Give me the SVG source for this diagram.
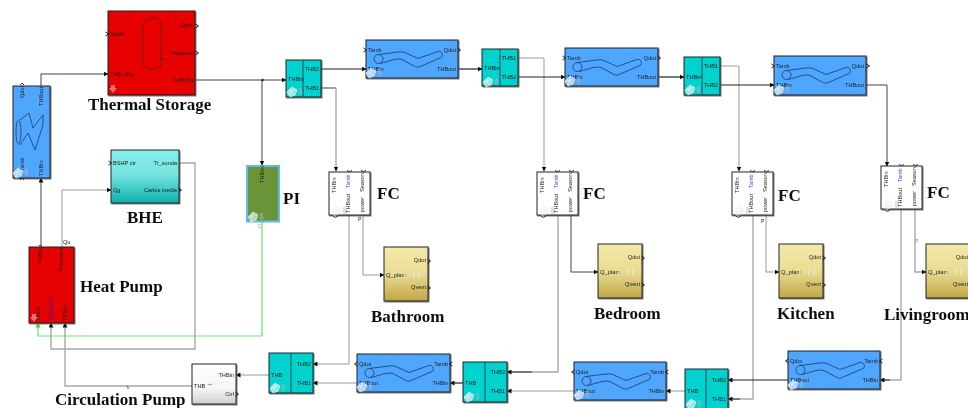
<svg xmlns="http://www.w3.org/2000/svg" xmlns:xlink="http://www.w3.org/1999/xlink" width="968" height="408" viewBox="0 0 968 408">
<style>
text{font-family:"Liberation Sans",Arial,sans-serif;font-size:5.6px;fill:#222}
.t{font-family:"Liberation Serif","Times New Roman",serif;font-weight:bold;font-size:17px;fill:#111}
.e{text-anchor:end}.m{text-anchor:middle}
.b{stroke:#222;stroke-width:1;filter:url(#sh)}
.blue{fill:#4fa6ff}.red{fill:#e60000}.cy{fill:#00d2d0}
.d{stroke:#1c4a4a;stroke-width:1;fill:none}
.c{fill:none;stroke:#444;stroke-width:1}
.k{stroke:#222;stroke-width:1.2}
.g{stroke:#999}.l{stroke:#a8a8a8;stroke-width:1.4}
.cm{fill:none;stroke:#222;stroke-width:.9}
.ic{fill:none;stroke:#1d3a66;stroke-width:.8}
</style>
<defs>
<filter id="sh" x="-10%" y="-10%" width="125%" height="125%"><feDropShadow dx="1" dy="1" stdDeviation=".6" flood-color="#555" flood-opacity=".8"/></filter>
<filter id="soft"><feGaussianBlur stdDeviation=".5"/></filter>
<linearGradient id="gT" x1="0" y1="0" x2="0" y2="1"><stop offset="0" stop-color="#84eeea"/><stop offset=".45" stop-color="#78e4e0"/><stop offset="1" stop-color="#0db2ae"/></linearGradient>
<linearGradient id="gY" x1="0" y1="0" x2="0" y2="1"><stop offset="0" stop-color="#f3e9ab"/><stop offset=".5" stop-color="#eadc92"/><stop offset="1" stop-color="#c0a644"/></linearGradient>
<linearGradient id="gW" x1="0" y1="0" x2="0" y2="1"><stop offset="0" stop-color="#fff"/><stop offset=".6" stop-color="#f6f6f6"/><stop offset="1" stop-color="#cfcfcf"/></linearGradient>
<marker id="a" markerWidth="5" markerHeight="5" refX="4.5" refY="2.5" orient="auto" markerUnits="userSpaceOnUse"><path d="M0,0L5,2.5L0,5Z" fill="#111"/></marker>
<marker id="ag" markerWidth="5" markerHeight="5" refX="4.5" refY="2.5" orient="auto" markerUnits="userSpaceOnUse"><path d="M0,0L5,2.5L0,5Z" fill="#3bd63b"/></marker>
<symbol id="pipe" overflow="visible"><ellipse cx="12.500" cy="19" rx="4.500" ry="4.500" class="ic"/><path class="ic" d="M12,14.500L32,12C36,11.500 38,12 41,13.500L52,18.500L72,11.500C76,10.500 78,16 75,17.500L53,27C51,27.500 50,27 48,26L37,20C34,18.800 32,18.800 28,19.500L14,23.500"/></symbol>
<symbol id="ico" overflow="visible"><path d="M0,5L5,0L10,3L8,8L3,10ZM2,3L8,8M5,1L3,9M0,6L9,2" fill="#e4ecf0" fill-opacity=".65" stroke="#f2f4f5" stroke-width=".6"/><path d="M12,1h3v4h1.500l-3,3.500l-3,-3.500h1.500z" fill="#9fb4c0" fill-opacity=".55"/></symbol>
<path id="chv" d="M-1.500,-2L1.500,0L-1.500,2" fill="none" stroke="#111" stroke-width=".9"/>
<g id="fc"><rect width="41" height="43" fill="#fff" class="b"/><text transform="translate(7,21) rotate(-90)">THBin</text><text transform="translate(21,16) rotate(-90)" style="fill:#3a3ae0">Tamb</text><text transform="translate(35,20) rotate(-90)">Season</text><text transform="translate(21,41) rotate(-90)">THBout</text><text transform="translate(35,40) rotate(-90)">power</text><use xlink:href="#ico" x="2" y="34" opacity=".7"/><path class="cm" d="M18,-1.500L20.500,-.3L23,-1.500M32,-1.500L34.500,-.3L37,-1.500M4,44L6.500,45.500L9,44"/></g>
<g id="room"><rect width="44" height="54" fill="url(#gY)" class="b"/><text x="2" y="29.500" style="font-size:5.8px">Q_plant</text><text x="42" y="15" class="e">Qdot</text><text x="42" y="42" class="e">Qvent</text><path d="M21,26v5M30,25v6M35,25v6" stroke="#d6f2e8" stroke-width="1.200" fill="none"/><use xlink:href="#chv" x="45" y="14"/><use xlink:href="#chv" x="45" y="41"/></g>
</defs>
<rect width="968" height="408" fill="#fff"/>
<g filter="url(#soft)">
<g id="connectors">
<path class="c" d="M195,80H286" marker-end="url(#a)"/>
<path class="c" d="M262,80V165" marker-end="url(#a)"/>
<circle cx="262.500" cy="80" r="1.200" fill="#222"/>
<path class="c" d="M41,86V74H108" marker-end="url(#a)"/>
<path class="c" d="M41,247V178" marker-end="url(#a)"/>
<path class="c g" d="M62,247V190H111" marker-end="url(#a)"/>
<path class="c l" d="M179,163H195V349H51V323" marker-end="url(#a)"/>
<path fill="none" stroke="#6fe86f" stroke-width="1.200" d="M262,222V336H38V323" marker-end="url(#ag)"/>
<path class="c l" d="M192,386H65V323" marker-end="url(#a)"/>
<path class="c g" d="M269,375H236" marker-end="url(#a)"/>
<path class="c k" d="M321,69H366" marker-end="url(#a)"/>
<path class="c" d="M321,88H336"/><path class="c l" d="M336,88V171" marker-end="url(#a)"/>
<path class="c k" d="M458,69H482" marker-end="url(#a)"/>
<path class="c g" d="M518,58H544V171" marker-end="url(#a)"/>
<path class="c k" d="M518,77H565" marker-end="url(#a)"/>
<path class="c k" d="M658,77H684" marker-end="url(#a)"/>
<path class="c g" d="M720,66H739V171" marker-end="url(#a)"/>
<path class="c k" d="M720,85H774" marker-end="url(#a)"/>
<path class="c" d="M866,85H887V166" marker-end="url(#a)"/>
<path class="c g" d="M349,215V364H313" marker-end="url(#a)"/>
<path class="c g" d="M363,215V275H384" marker-end="url(#a)"/>
<path class="c l" d="M558,215V372H532"/><path class="c k" d="M532,372H507" marker-end="url(#a)"/>
<path class="c" d="M571,215V272H598" marker-end="url(#a)"/>
<path class="c l" d="M753,215V399H740"/><path class="c k" d="M740,399H728" marker-end="url(#a)"/>
<path class="c g" d="M766,215V272H779" marker-end="url(#a)"/>
<path class="c l" d="M901,209V380H890"/><path class="c k" d="M890,380H880" marker-end="url(#a)"/>
<path class="c l" d="M915,209V272H926" marker-end="url(#a)"/>
<path class="c g" d="M357,383H313" marker-end="url(#a)"/>
<path class="c k" d="M463,383H450" marker-end="url(#a)"/>
<path class="c g" d="M574,391H507" marker-end="url(#a)"/>
<path class="c g" d="M685,391H666" marker-end="url(#a)"/>
<path class="c k" d="M788,380H728" marker-end="url(#a)"/>
</g>
<g id="thermal-storage">
<rect x="108" y="11" width="87" height="84" class="red b"/>
<path d="M143,23L148,18H157L161,23V65L157,69H148L143,65Z" fill="none" stroke="#611" stroke-width=".8"/><path d="M139,30h4" stroke="#a33" stroke-width=".6"/><path d="M161,59h3" stroke="#111" stroke-width=".8"/>
<text x="110" y="36">Tamb</text><text x="110" y="76">THB_chg</text><text x="193" y="27" class="e">Qdot</text><text x="193" y="54.500" class="e">Twarsers</text><text x="193" y="81.500" class="e">THBchg</text>
<use xlink:href="#chv" x="197" y="26"/><use xlink:href="#chv" x="197" y="53"/><use xlink:href="#chv" x="107" y="34"/>
<path d="M111,85h4v3h2l-4,5l-4,-5h2z" fill="#e88" fill-opacity=".8"/>
<text class="t" x="88" y="110">Thermal Storage</text>
</g>
<g id="hx-left">
<rect x="13" y="86" width="37" height="92" class="blue b"/>
<path class="ic" d="M20,120L29,113L33,128L43,115V125L35,150L28,133L20,145"/><ellipse cx="18.500" cy="132" rx="2.500" ry="12" class="ic"/>
<text transform="translate(24,98) rotate(-90)">Qdot</text><text transform="translate(43,106) rotate(-90)">THBout</text><text transform="translate(24,171) rotate(-90)">Tamb</text><text transform="translate(43,176) rotate(-90)">THBin</text>
<path class="cm" d="M20,85L22,83L24,85M20,180L22,178L24,180"/>
<use xlink:href="#ico" x="13" y="168"/>
</g>
<g id="bhe">
<rect x="111" y="150" width="68" height="53" fill="url(#gT)" class="b"/>
<text x="113" y="165">BSHP ctr</text><text x="113" y="192">Qg</text><text x="177" y="165" class="e">Tr_sonda</text><text x="177" y="192" class="e">Carlos media</text>
<use xlink:href="#chv" x="110" y="163"/><use xlink:href="#chv" x="180" y="190"/>
<text class="t" x="127" y="223">BHE</text>
</g>
<g id="pi">
<rect x="247" y="166" width="32" height="55.500" fill="#6b9438" stroke="#5cbcf0" stroke-width="2"/>
<text transform="translate(264,183) rotate(-90)">THBsn</text>
<use xlink:href="#ico" x="248" y="212"/><text x="258" y="228" style="fill:#5bd85b">C</text>
<text class="t" x="283" y="204">PI</text>
</g>
<g id="heat-pump">
<rect x="29" y="247" width="45" height="76" class="red b"/>
<text transform="translate(42,264) rotate(-90)">THBout</text><text transform="translate(63,271) rotate(-90)">Phexvent</text><text transform="translate(40,321) rotate(-90)">Tdem</text><text transform="translate(53,321) rotate(-90)" style="fill:#3a20a0">THBout2</text><text transform="translate(67,321) rotate(-90)">THBin</text>
<text x="63" y="244">Qu</text>
<path d="M32,314h4v3h2l-4,5l-4,-5h2z" fill="#e88" fill-opacity=".8"/>
<text class="t" x="80" y="292">Heat Pump</text>
</g>
<g id="circulation-pump">
<rect x="192" y="364" width="44" height="40" fill="url(#gW)" class="b"/>
<text x="194" y="387.500">THB</text><text x="234" y="376.500" class="e">THBin</text><text x="234" y="395.500" class="e">Ctrl</text>
<path d="M208,384.500h4" stroke="#5fd85f" stroke-width="1.200"/><path d="M214,384l10,-2l4,-1" stroke="#eee" fill="none"/>
<use xlink:href="#chv" x="237" y="394"/>
<text x="126" y="388.500" style="font-size:4px">Tr</text>
<text class="t" x="55" y="404.500">Circulation Pump</text>
</g>
<g id="splitter-1">
<rect x="286" y="60" width="35" height="37" class="cy b"/><path class="d" d="M303,60V97"/>
<text x="288" y="81">THBin</text><text x="319" y="70.500" class="e">THB2</text><text x="319" y="89.500" class="e">THB1</text><use xlink:href="#ico" x="287" y="87"/>
</g>
<g id="pipe-1">
<rect x="366" y="40" width="92" height="38" class="blue b"/><use xlink:href="#pipe" x="366" y="40"/>
<text x="368" y="52">Tamb</text><text x="368" y="71">THBin</text><text x="456" y="52" class="e">Qdot</text><text x="456" y="71" class="e">THBout</text>
<use xlink:href="#chv" x="365" y="50"/><use xlink:href="#chv" x="459" y="50"/><use xlink:href="#ico" x="366" y="68"/>
</g>
<g id="splitter-2">
<rect x="482" y="49" width="36" height="37" class="cy b"/><path class="d" d="M500,49V86"/>
<text x="484" y="70">THBin</text><text x="516" y="60" class="e">THB1</text><text x="516" y="79" class="e">THB2</text><use xlink:href="#ico" x="483" y="77"/>
</g>
<g id="pipe-2">
<rect x="565" y="48" width="93" height="38" class="blue b"/><use xlink:href="#pipe" x="565" y="48"/>
<text x="567" y="60">Tamb</text><text x="567" y="79">THBin</text><text x="656" y="60" class="e">Qdot</text><text x="656" y="79" class="e">THBout</text>
<use xlink:href="#chv" x="564" y="58"/><use xlink:href="#chv" x="659" y="58"/><use xlink:href="#ico" x="565" y="76"/>
</g>
<g id="splitter-3">
<rect x="684" y="57" width="36" height="38" class="cy b"/><path class="d" d="M702,57V95"/>
<text x="686" y="79">THBin</text><text x="718" y="68" class="e">THB1</text><text x="718" y="87" class="e">THB2</text><use xlink:href="#ico" x="685" y="85"/>
</g>
<g id="pipe-3">
<rect x="774" y="56" width="92" height="39" class="blue b"/><use xlink:href="#pipe" x="774" y="56"/>
<text x="776" y="68">Tamb</text><text x="776" y="87">THBin</text><text x="864" y="68" class="e">Qdot</text><text x="864" y="87" class="e">THBout</text>
<use xlink:href="#chv" x="773" y="66"/><use xlink:href="#chv" x="868" y="66"/><use xlink:href="#ico" x="774" y="85"/>
</g>
<g id="fc-1"><use xlink:href="#fc" x="329" y="172"/><text class="t" x="377" y="199">FC</text><text x="358" y="221" style="font-size:5px">P</text></g>
<g id="fc-2"><use xlink:href="#fc" x="537" y="172"/><text class="t" x="583" y="199">FC</text></g>
<g id="fc-3"><use xlink:href="#fc" x="732" y="172"/><text class="t" x="778" y="200.500">FC</text><text x="761" y="223" style="font-size:5px">P</text></g>
<g id="fc-4"><use xlink:href="#fc" x="881" y="166"/><text class="t" x="927" y="198">FC</text><text x="915" y="243" style="font-size:5px;fill:#888">P</text></g>
<g id="bathroom"><use xlink:href="#room" x="384" y="247"/><text class="t" x="371" y="322">Bathroom</text></g>
<g id="bedroom"><use xlink:href="#room" x="598" y="244"/><text class="t" x="594" y="319">Bedroom</text></g>
<g id="kitchen"><use xlink:href="#room" x="779" y="244"/><text class="t" x="777" y="319">Kitchen</text></g>
<g id="livingroom"><use xlink:href="#room" x="926" y="244"/><text class="t" x="884" y="320">Livingroom</text></g>
<g id="return-pipe-1">
<rect x="357" y="354" width="93" height="38" class="blue b"/><use xlink:href="#pipe" x="357" y="354"/>
<text x="359" y="366">Qdot</text><text x="359" y="385">THBout</text><text x="448" y="366" class="e">Tamb</text><text x="448" y="385" class="e">THBin</text>
<use xlink:href="#chv" x="356" y="364" transform="rotate(180 356 364)"/><use xlink:href="#chv" x="451" y="364" transform="rotate(180 451 364)"/><use xlink:href="#ico" x="357" y="382"/>
</g>
<g id="return-pipe-2">
<rect x="574" y="362" width="92" height="38" class="blue b"/><use xlink:href="#pipe" x="574" y="362"/>
<text x="576" y="374">Qdot</text><text x="576" y="393">THBout</text><text x="664" y="374" class="e">Tamb</text><text x="664" y="393" class="e">THBin</text>
<use xlink:href="#chv" x="573" y="372" transform="rotate(180 573 372)"/><use xlink:href="#chv" x="667" y="372" transform="rotate(180 667 372)"/><use xlink:href="#ico" x="574" y="390"/>
</g>
<g id="return-pipe-3">
<rect x="788" y="351" width="92" height="38" class="blue b"/><use xlink:href="#pipe" x="788" y="351"/>
<text x="790" y="363">Qdot</text><text x="790" y="382">THBout</text><text x="878" y="363" class="e">Tamb</text><text x="878" y="382" class="e">THBin</text>
<use xlink:href="#chv" x="787" y="361" transform="rotate(180 787 361)"/><use xlink:href="#chv" x="881" y="361" transform="rotate(180 881 361)"/><use xlink:href="#ico" x="788" y="380"/>
</g>
<g id="mixer-1">
<rect x="269" y="353" width="44" height="40" class="cy b"/><path class="d" d="M291,353V393"/>
<text x="271" y="377">THB</text><text x="311" y="366" class="e">THB2</text><text x="311" y="385" class="e">THB1</text><use xlink:href="#ico" x="270" y="383"/>
</g>
<g id="mixer-2">
<rect x="463" y="362" width="44" height="40" class="cy b"/><path class="d" d="M485,362V402"/>
<text x="465" y="385">THB</text><text x="505" y="374" class="e">THB2</text><text x="505" y="393" class="e">THB1</text><use xlink:href="#ico" x="464" y="392"/>
</g>
<g id="mixer-3">
<rect x="685" y="369" width="43" height="45" class="cy b"/><path class="d" d="M706,369V408"/>
<text x="687" y="393">THB</text><text x="726" y="382" class="e">THB2</text><text x="726" y="401" class="e">THB1</text><use xlink:href="#ico" x="686" y="399"/>
</g>
</g>
</svg>
